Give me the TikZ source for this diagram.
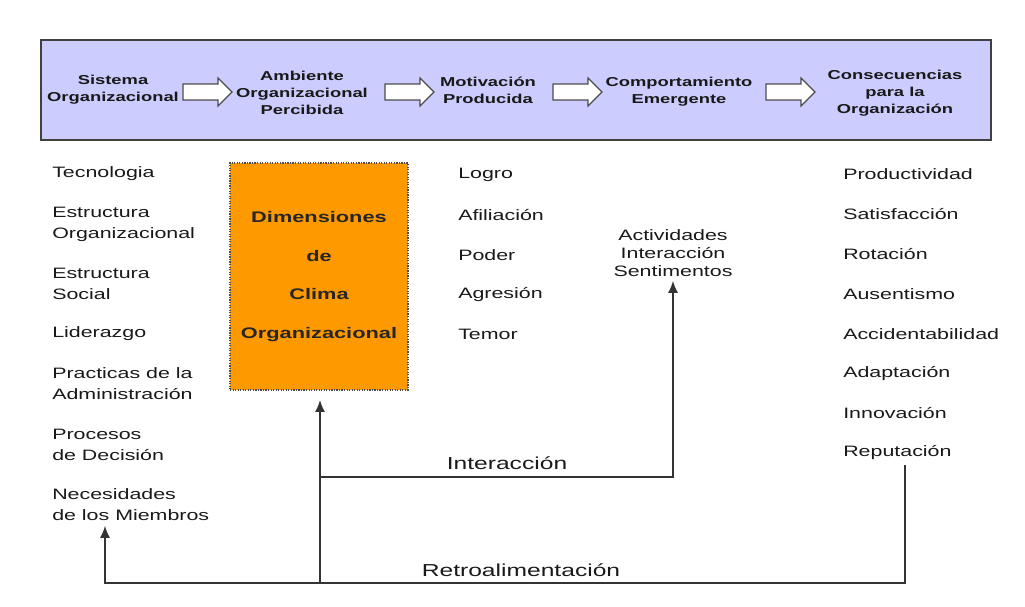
\documentclass[tikz,border=0pt]{standalone}
\usepackage{fontspec}
\setmainfont{Liberation Sans}[FakeStretch=1.42]
\usetikzlibrary{arrows.meta}
\definecolor{lav}{RGB}{204,204,255}
\definecolor{orng}{RGB}{255,153,0}
\definecolor{ink}{RGB}{25,25,25}
\begin{document}
\begin{tikzpicture}[x=0.75pt,y=-0.75pt,
  head/.style={font=\bfseries\fontsize{9.7}{12.75}\selectfont, align=center, inner sep=1pt, text=ink},
  item/.style={font=\fontsize{11.3}{15.75}\selectfont, align=left, anchor=west, inner sep=3.75pt, text=ink},
  lbl/.style={font=\fontsize{13}{16}\selectfont, inner sep=1pt, text=ink},
  conn/.style={draw=black!80, line width=1.2pt},
  tip/.style={-{Latex[length=9pt,width=7.5pt]}},
  blockarrow/.pic={\draw[fill=white, draw=black!70, line width=0.9pt]
     (0,-8) -- (35,-8) -- (35,-14) -- (49,0) -- (35,14) -- (35,8) -- (0,8) -- cycle;}
  ]
\useasboundingbox (0,0) rectangle (1025,607);
% top band
\node[draw=black!75, fill=lav, line width=1.3pt, minimum width=950*0.75pt, minimum height=100*0.75pt, inner sep=0, anchor=north west] (band) at (40,39) {};
\node[head] (h1) at (113,90) {Sistema\\Organizacional};
\node[head] (h2) at (302,93) {Ambiente\\Organizacional\\Percibida};
\node[head] (h3) at (488,90) {Motivación\\Producida};
\node[head] (h4) at (679,91.5) {Comportamiento\\Emergente};
\node[head] (h5) at (895,93) {Consecuencias\\para la\\Organización};
\pic at (183,92) {blockarrow};
\pic at (385,92) {blockarrow};
\pic at (553,92) {blockarrow};
\pic at (766,92) {blockarrow};
% orange box
\node[draw=black!70, densely dotted, line width=0.9pt, fill=orng, minimum width=178*0.75pt, minimum height=227*0.75pt, font=\bfseries\fontsize{11.5}{29}\selectfont, align=center, text=black!85] (dim) at (319,276.5) {Dimensiones\\de\\Clima\\Organizacional};
% left column
\node[item] (l1) at (47,174) {Tecnologia};
\node[item] (l2) at (47,224.5) {Estructura\\Organizacional};
\node[item] (l3) at (47,283.5) {Estructura\\Social};
\node[item] (l4) at (47,334) {Liderazgo};
\node[item] (l5) at (47,384) {Practicas de la\\Administración};
\node[item] (l6) at (47,444.5) {Procesos\\de Decisión};
\node[item] (l7) at (47,504.5) {Necesidades\\de los Miembros};
% middle column
\node[item] (m1) at (453,175) {Logro};
\node[item] (m2) at (453,215) {Afiliación};
\node[item] (m3) at (453,255) {Poder};
\node[item] (m4) at (453,295) {Agresión};
\node[item] (m5) at (453,334) {Temor};
% activities
\node[font=\fontsize{11.3}{13.5}\selectfont, align=center, text=ink, inner sep=3pt] (act) at (673,253) {Actividades\\Interacción\\Sentimentos};
% right column
\node[item] (r1) at (838,174) {Productividad};
\node[item] (r2) at (838,214) {Satisfacción};
\node[item] (r3) at (838,254) {Rotación};
\node[item] (r4) at (838,294) {Ausentismo};
\node[item] (r5) at (838,334) {Accidentabilidad};
\node[item] (r6) at (838,374) {Adaptación};
\node[item] (r7) at (838,413) {Innovación};
\node[item] (r8) at (838,453) {Reputación};
% connectors
\coordinate (bm) at (320,583);
\coordinate (im) at (320,477);
\coordinate (ia) at (673,477);
\coordinate (br) at (905,583);
\coordinate (bl) at (105,583);
\coordinate (rt) at (905,465);
\draw[conn, tip, shorten >=7pt] (bm) -- (dim.south -| bm);
\draw[conn, tip] (im) -- (ia) -- (act.south -| ia);
\draw[conn, tip] (rt) -- (br) -- (bl) -- (l7.south -| bl);
\node[lbl] (int) at (507,463) {Interacción};
\node[lbl] (ret) at (521,570) {Retroalimentación};
\end{tikzpicture}
\end{document}
